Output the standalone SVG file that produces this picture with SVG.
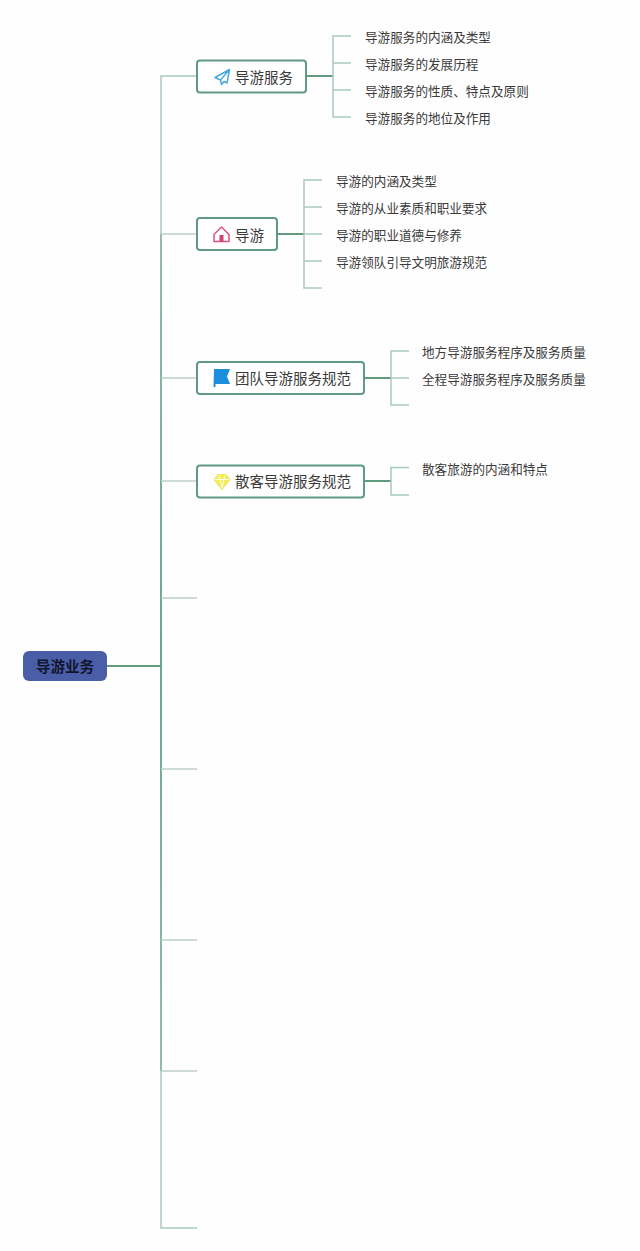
<svg xmlns="http://www.w3.org/2000/svg" width="640" height="1251" viewBox="0 0 640 1251">
<style>
text{font-family:"Noto Sans CJK SC","Liberation Sans",sans-serif;fill:#3a3a3a}
.leaf{font-size:12.6px}
.t{font-size:14.5px}
.box{fill:#fff;stroke:#5f9a85;stroke-width:2}
.main{stroke:url(#trunk);stroke-width:2;fill:none}
.light{stroke:#a9cabf;stroke-width:1.500;fill:none}
.stem{stroke:#bcd0c9;stroke-width:1.500;fill:none}
.thick{stroke:#62997f;stroke-width:2;fill:none}
</style>
<defs>
<linearGradient id="trunk" gradientUnits="userSpaceOnUse" x1="161" y1="234" x2="161" y2="1071">
<stop offset="0" stop-color="#93bbae"/>
<stop offset="0.5" stop-color="#6aa592"/>
<stop offset="1" stop-color="#93bbae"/>
</linearGradient>
</defs>
<rect width="640" height="1251" fill="#fefefe"/>
<g id="connectors">
<path class="main" d="M161 234V1071"/>
<path class="light" d="M197 76H161V234M161 1071V1228H197"/>
<path class="thick" d="M107 666H161"/>
<path class="stem" d="M161 234H197M161 378H197M161 481H197M161 598H197M161 769H197M161 940H197M161 1071H197"/>
<path class="thick" d="M306 76H333M277 234H304M364 378H391M364 481H391"/>
<path class="light" d="M351 36H333V117H351M333 63H351M333 90H351"/>
<path class="light" d="M322 180H304V288H322M304 207H322M304 234H322M304 261H322"/>
<path class="light" d="M409 351H391V405H409M391 378H409"/>
<path class="light" d="M409 467.500H391V495H409"/>
</g>
<g id="root">
<rect x="23" y="651" width="84" height="30" rx="6" fill="#4a5ea8"/>
<text x="65" y="672" text-anchor="middle" font-size="14.500" font-weight="700" style="fill:#10152e">导游业务</text>
</g>
<g id="n1">
<rect class="box" x="197" y="60.500" width="109" height="32" rx="3"/>
<path d="M229.500 69.500L215 77.500L220.500 80L221.500 84.500L224 81.500L227 83ZM229.500 69.500L220.500 80" fill="none" stroke="#4aa8e0" stroke-width="1.500" stroke-linejoin="round"/>
<text class="t" x="235" y="83">导游服务</text>
</g>
<g id="n2">
<rect class="box" x="197" y="218" width="80" height="32" rx="3"/>
<path d="M214 234.500L221.500 227L229 234.500V241.500H214Z" fill="none" stroke="#e0527e" stroke-width="1.500" stroke-linejoin="round"/>
<rect x="219.500" y="235" width="4" height="6.500" fill="#d9406f"/>
<text class="t" x="235" y="241">导游</text>
</g>
<g id="n3">
<rect class="box" x="197" y="362" width="167" height="32" rx="3"/>
<path d="M214 369H230L227 376.500L230 384H215.500V387H213.500Z" fill="#1c8ede"/>
<text class="t" x="235" y="384">团队导游服务规范</text>
</g>
<g id="n4">
<rect class="box" x="197" y="465.500" width="167" height="32" rx="3"/>
<path d="M218 474.500H226L230 479.500L222 489.500L214 479.500Z" fill="#f5ec5a" stroke="#efe24a"/>
<path d="M214.500 479.500H229.500M219 475L222 488L225 475" stroke="#fff" stroke-width="0.800" fill="none"/>
<text class="t" x="235" y="487">散客导游服务规范</text>
</g>
<g id="leaves">
<text class="leaf" x="365" y="41.500">导游服务的内涵及类型</text>
<text class="leaf" x="365" y="68.500">导游服务的发展历程</text>
<text class="leaf" x="365" y="95.500">导游服务的性质、特点及原则</text>
<text class="leaf" x="365" y="122.500">导游服务的地位及作用</text>
<text class="leaf" x="336" y="185.500">导游的内涵及类型</text>
<text class="leaf" x="336" y="212.500">导游的从业素质和职业要求</text>
<text class="leaf" x="336" y="239.500">导游的职业道德与修养</text>
<text class="leaf" x="336" y="266.500">导游领队引导文明旅游规范</text>
<text class="leaf" x="422" y="356.500">地方导游服务程序及服务质量</text>
<text class="leaf" x="422" y="383.500">全程导游服务程序及服务质量</text>
<text class="leaf" x="422" y="473.500">散客旅游的内涵和特点</text>
</g>
</svg>
